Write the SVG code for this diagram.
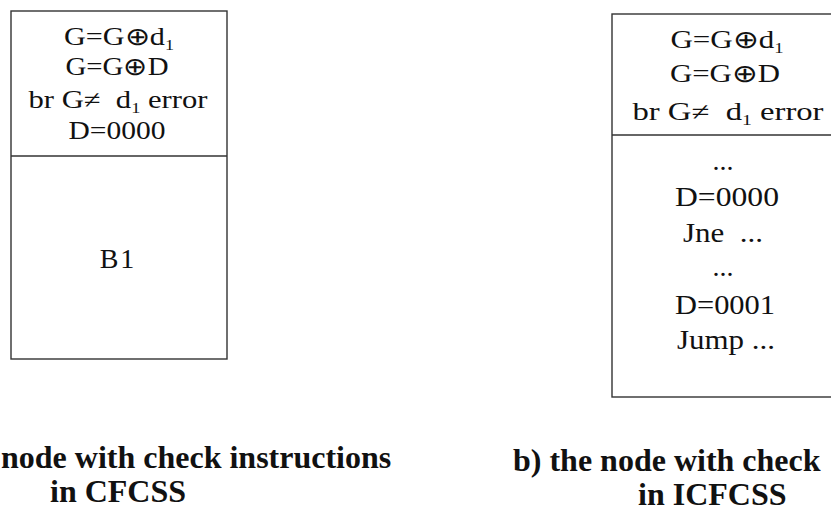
<svg xmlns="http://www.w3.org/2000/svg" width="831" height="513" viewBox="0 0 831 513">
  <style>
    .box { fill: #ffffff; stroke: #333333; stroke-width: 1.4; }
    .div { stroke: #333333; stroke-width: 1.4; fill: none; }
    .t { font-family: "Liberation Serif", "Times New Roman", serif; font-size: 25px; fill: #111111; text-anchor: middle; }
    .tb { font-family: "Liberation Serif", "Times New Roman", serif; font-size: 28px; fill: #111111; text-anchor: middle; }
    .sub { font-size: 15px; }
    .cap { font-family: "Liberation Serif", "Times New Roman", serif; font-size: 32px; font-weight: bold; fill: #111111; }
  </style>
  <rect width="831" height="513" fill="#ffffff"/>

  <g id="nodeA">
    <rect class="box" x="11" y="11" width="216" height="348"/>
    <line class="div" x1="11" y1="156" x2="227" y2="156"/>
    <text class="t" x="119" y="45" textLength="110" lengthAdjust="spacingAndGlyphs">G=G⊕d<tspan class="sub" dy="5">1</tspan></text>
    <text class="t" x="117" y="75" textLength="103" lengthAdjust="spacingAndGlyphs">G=G⊕D</text>
    <text class="t" x="118" y="108" textLength="179" lengthAdjust="spacingAndGlyphs" xml:space="preserve">br G≠  d<tspan class="sub" dy="5">1</tspan><tspan dy="-5"> error</tspan></text>
    <text class="t" x="117" y="139" textLength="97" lengthAdjust="spacingAndGlyphs">D=0000</text>
    <text class="tb" x="118" y="268" letter-spacing="2">B1</text>
  </g>

  <g id="nodeB">
    <rect class="box" x="612" y="14" width="232" height="383"/>
    <line class="div" x1="612" y1="135" x2="844" y2="135"/>
    <text class="t" x="727" y="48" textLength="113" lengthAdjust="spacingAndGlyphs">G=G⊕d<tspan class="sub" dy="5">1</tspan></text>
    <text class="t" x="725" y="82" textLength="110" lengthAdjust="spacingAndGlyphs">G=G⊕D</text>
    <text class="t" x="728" y="120" textLength="191" lengthAdjust="spacingAndGlyphs" xml:space="preserve">br G≠  d<tspan class="sub" dy="5">1</tspan><tspan dy="-5"> error</tspan></text>
    <text class="tb" x="723" y="170">...</text>
    <text class="tb" x="727" y="206" textLength="104" lengthAdjust="spacingAndGlyphs">D=0000</text>
    <text class="tb" x="723" y="242" textLength="80" lengthAdjust="spacingAndGlyphs" xml:space="preserve">Jne  ...</text>
    <text class="tb" x="723" y="276">...</text>
    <text class="tb" x="725" y="314" textLength="100" lengthAdjust="spacingAndGlyphs">D=0001</text>
    <text class="tb" x="726" y="349" textLength="98" lengthAdjust="spacingAndGlyphs">Jump ...</text>
  </g>

  <g id="connectors"></g>

  <g id="captions">
    <text class="cap" x="1" y="468">node with check instructions</text>
    <text class="cap" x="50" y="502">in CFCSS</text>
    <text class="cap" x="513" y="471">b) the node with check</text>
    <text class="cap" x="638" y="505">in ICFCSS</text>
  </g>
</svg>
